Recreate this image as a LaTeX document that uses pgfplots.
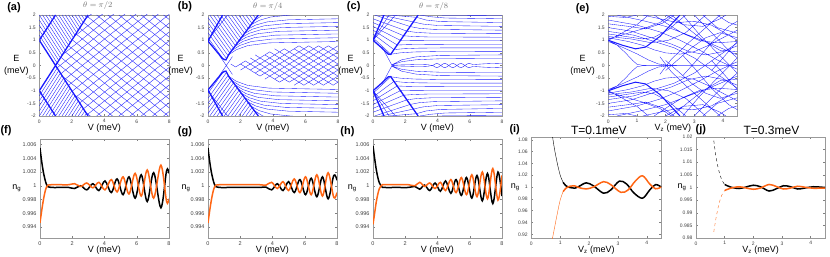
\documentclass[border=0pt]{standalone}
\usepackage{pgfplots}
\pgfplotsset{compat=1.18}
\usepackage{fontspec}
\setmainfont{Liberation Sans}
\definecolor{myor}{RGB}{255,102,20}
\definecolor{myblue}{RGB}{25,25,255}
\pgfplotsset{
 base/.style={scale only axis, clip=true, unbounded coords=jump,
   axis line style={black!40,line width=0.5pt},
   tick style={black!50,line width=0.4pt}, major tick length=2pt, tick align=inside,
   ticklabel style={font=\fontsize{5}{5}\selectfont, text=black!75},
   label style={font=\fontsize{9}{11.5}\selectfont},
   xlabel style={at={(axis description cs:0.5,0)},anchor=center,yshift=-12pt},
   ylabel style={anchor=center,rotate=-90,align=center},
 },
 bl/.style={myblue,line width=0.35pt},
 bt/.style={myblue,line width=1.3pt},
 topax/.style={base,width=130pt,height=101pt,xmin=0,xmax=8,ymin=-2,ymax=2,
   xtick={0,2,4,6,8},xticklabels={0,2,4,6,8},
   ytick={-2,-1.5,-1,-0.5,0,0.5,1,1.5,2},yticklabels={-2,-1.5,-1,-0.5,0,0.5,1,1.5,2},
   xlabel={V (meV)}, ylabel={E\\(meV)},
   title style={anchor=center,yshift=3pt,font=\fontsize{8}{8}\selectfont,text=black!55}},
 ngax/.style={base,width=129pt,height=99pt,xmin=0,xmax=8,ymin=0.9924,ymax=1.0068,
   ticklabel style={font=\fontsize{5.5}{5.5}\selectfont},
   xtick={0,2,4,6,8},xticklabels={0,2,4,6,8},
   ytick={0.994,0.996,0.998,1,1.002,1.004,1.006},yticklabels={0.994,0.996,0.998,1,1.002,1.004,1.006},
   xlabel={V (meV)}, ylabel={n\textsubscript{g}}, xlabel style={yshift=-0.6pt}},
 tax/.style={base,width=130pt,height=101pt,xmin=0,xmax=4.5,
   xtick={0,1,2,3,4},xticklabels={0,1,2,3,4},
   xlabel={V\textsubscript{z} (meV)}, ylabel={n\textsubscript{g}}, xlabel style={yshift=-0.3pt},
   title style={anchor=center,yshift=1pt,font=\fontsize{12}{12}\selectfont}},
 blk/.style={black,line width=1.5pt,smooth,tension=0.55},
 org/.style={myor,line width=1.5pt,smooth,tension=0.55},
 blkt/.style={black,line width=0.4pt,smooth},
 orgt/.style={myor,line width=0.4pt,smooth},
}
\begin{document}
\begin{tikzpicture}
\useasboundingbox (0,0) rectangle (830pt,-257pt);
% ---------------- (a)
\begin{axis}[topax, at={(39.3pt,-15pt)}, anchor=north west, title={$\theta=\pi/2$},
  title style={at={(axis description cs:0.45,1)}},
  ylabel style={at={(axis description cs:-0.177,0.5)}}]
\addplot[bl] coordinates {(0,1.2)(1.1,0.1) (0,nan) (0,1.4)(1.2,0.2) (0,nan) (0,1.6)(1.3,0.3) (0,nan) (0,1.8)(1.4,0.4) (0,nan) (0,2)(1.5,0.5) (0,nan) (0.2,2)(1.6,0.6) (0,nan) (0.4,2)(1.7,0.7) (0,nan) (0.6,2)(1.8,0.8) (0,nan) (0.8,2)(1.9,0.9) (0,nan) (1,2)(2,1) (0,nan) (1.2,2)(2.1,1.1) (0,nan) (1.4,2)(2.2,1.2) (0,nan) (1.6,2)(2.3,1.3) (0,nan) (1.8,2)(2.4,1.4) (0,nan) (2,2)(2.5,1.5) (0,nan) (2.2,2)(2.6,1.6) (0,nan) (2.4,2)(2.7,1.7) (0,nan) (2.6,2)(2.8,1.8) (0,nan) (2.8,2)(2.9,1.9)};
\addplot[bl] coordinates {(0,-1.2)(1.1,-0.1) (0,nan) (0,-1.4)(1.2,-0.2) (0,nan) (0,-1.6)(1.3,-0.3) (0,nan) (0,-1.8)(1.4,-0.4) (0,nan) (0,-2)(1.5,-0.5) (0,nan) (0.2,-2)(1.6,-0.6) (0,nan) (0.4,-2)(1.7,-0.7) (0,nan) (0.6,-2)(1.8,-0.8) (0,nan) (0.8,-2)(1.9,-0.9) (0,nan) (1,-2)(2,-1) (0,nan) (1.2,-2)(2.1,-1.1) (0,nan) (1.4,-2)(2.2,-1.2) (0,nan) (1.6,-2)(2.3,-1.3) (0,nan) (1.8,-2)(2.4,-1.4) (0,nan) (2,-2)(2.5,-1.5) (0,nan) (2.2,-2)(2.6,-1.6) (0,nan) (2.4,-2)(2.7,-1.7) (0,nan) (2.6,-2)(2.8,-1.8) (0,nan) (2.8,-2)(2.9,-1.9)};
\addplot[bl] coordinates {(2.857,-1.857)(8,-4.48) (0,nan) (2.143,-1.143)(8,-4.13) (0,nan) (1.429,-0.429)(8,-3.78) (0,nan) (1.093,0.093)(8,-3.43) (0,nan) (1.325,0.325)(8,-3.08) (0,nan) (1.556,0.556)(8,-2.73) (0,nan) (1.788,0.788)(8,-2.38) (0,nan) (2.020,1.020)(8,-2.03) (0,nan) (2.252,1.252)(8,-1.68) (0,nan) (2.483,1.483)(8,-1.33) (0,nan) (2.715,1.715)(8,-0.98) (0,nan) (2.947,1.947)(8,-0.63) (0,nan) (3.529,2)(8,-0.28) (0,nan) (4.216,2)(8,0.07) (0,nan) (4.902,2)(8,0.42) (0,nan) (5.588,2)(8,0.77) (0,nan) (6.275,2)(8,1.12) (0,nan) (6.961,2)(8,1.47) (0,nan) (7.647,2)(8,1.82)};
\addplot[bl] coordinates {(2.857,1.857)(8,4.48) (0,nan) (2.143,1.143)(8,4.13) (0,nan) (1.429,0.429)(8,3.78) (0,nan) (1.093,-0.093)(8,3.43) (0,nan) (1.325,-0.325)(8,3.08) (0,nan) (1.556,-0.556)(8,2.73) (0,nan) (1.788,-0.788)(8,2.38) (0,nan) (2.020,-1.020)(8,2.03) (0,nan) (2.252,-1.252)(8,1.68) (0,nan) (2.483,-1.483)(8,1.33) (0,nan) (2.715,-1.715)(8,0.98) (0,nan) (2.947,-1.947)(8,0.63) (0,nan) (3.529,-2)(8,0.28) (0,nan) (4.216,-2)(8,-0.07) (0,nan) (4.902,-2)(8,-0.42) (0,nan) (5.588,-2)(8,-0.77) (0,nan) (6.275,-2)(8,-1.12) (0,nan) (6.961,-2)(8,-1.47) (0,nan) (7.647,-2)(8,-1.82)};
\addplot[bt] coordinates {(0,1)(3,-2) (0,nan) (0,-1)(3,2) (0,nan) (0,1)(1,2) (0,nan) (0,-1)(1,-2)};
\end{axis}
% ---------------- (b)
\begin{axis}[topax, at={(208pt,-15pt)}, anchor=north west, title={$\theta=\pi/4$},
  title style={at={(axis description cs:0.46,1)}},
  ylabel style={at={(axis description cs:-0.21,0.5)}}]
\addplot[bl] coordinates {(0,1.1)(1.0,0.2) (0,nan) (0,1.3)(1.114,0.298) (0,nan) (0,1.5)(1.228,0.395) (0,nan) (0,1.7)(1.341,0.493) (0,nan) (0,1.9)(1.455,0.59) (0,nan) (0.111,2)(1.569,0.688) (0,nan) (0.333,2)(1.683,0.785) (0,nan) (0.556,2)(1.797,0.883) (0,nan) (0.778,2)(1.911,0.98) (0,nan) (1.0,2)(2.024,1.078) (0,nan) (1.222,2)(2.138,1.176) (0,nan) (1.444,2)(2.252,1.273) (0,nan) (1.667,2)(2.366,1.371) (0,nan) (1.889,2)(2.48,1.468) (0,nan) (2.111,2)(2.594,1.566) (0,nan) (2.333,2)(2.707,1.663) (0,nan) (2.556,2)(2.821,1.761) (0,nan) (2.778,2)(2.935,1.858)};
\addplot[bl] coordinates {(0,-1.1)(1.0,-0.2) (0,nan) (0,-1.3)(1.114,-0.298) (0,nan) (0,-1.5)(1.228,-0.395) (0,nan) (0,-1.7)(1.341,-0.493) (0,nan) (0,-1.9)(1.455,-0.59) (0,nan) (0.111,-2)(1.569,-0.688) (0,nan) (0.333,-2)(1.683,-0.785) (0,nan) (0.556,-2)(1.797,-0.883) (0,nan) (0.778,-2)(1.911,-0.98) (0,nan) (1.0,-2)(2.024,-1.078) (0,nan) (1.222,-2)(2.138,-1.176) (0,nan) (1.444,-2)(2.252,-1.273) (0,nan) (1.667,-2)(2.366,-1.371) (0,nan) (1.889,-2)(2.48,-1.468) (0,nan) (2.111,-2)(2.594,-1.566) (0,nan) (2.333,-2)(2.707,-1.663) (0,nan) (2.556,-2)(2.821,-1.761) (0,nan) (2.778,-2)(2.935,-1.858)};
\addplot[bl] coordinates {(1.25,0.414)(1.75,0.628)(2.45,0.789)(3.75,0.896)(8,0.95) (0,nan) (1.45,0.586)(1.95,0.792)(2.65,0.946)(3.95,1.049)(8,1.1) (0,nan) (1.65,0.757)(2.15,0.954)(2.85,1.102)(4.15,1.201)(8,1.25) (0,nan) (1.85,0.928)(2.35,1.117)(3.05,1.258)(4.35,1.353)(8,1.4) (0,nan) (2.05,1.1)(2.55,1.28)(3.25,1.415)(4.55,1.505)(8,1.55) (0,nan) (2.25,1.271)(2.75,1.443)(3.45,1.571)(4.75,1.657)(8,1.7) (0,nan) (2.45,1.443)(2.95,1.606)(3.65,1.728)(4.95,1.809)(8,1.85) (0,nan) (2.65,1.614)(3.15,1.788)(3.85,1.919)(5.15,2.006)(8,2.05) (0,nan) (2.85,1.785)(3.35,1.991)(4.05,2.146)};
\addplot[bl] coordinates {(1.25,-0.414)(1.75,-0.628)(2.45,-0.789)(3.75,-0.896)(8,-0.95) (0,nan) (1.45,-0.586)(1.95,-0.792)(2.65,-0.946)(3.95,-1.049)(8,-1.1) (0,nan) (1.65,-0.757)(2.15,-0.954)(2.85,-1.102)(4.15,-1.201)(8,-1.25) (0,nan) (1.85,-0.928)(2.35,-1.117)(3.05,-1.258)(4.35,-1.353)(8,-1.4) (0,nan) (2.05,-1.1)(2.55,-1.28)(3.25,-1.415)(4.55,-1.505)(8,-1.55) (0,nan) (2.25,-1.271)(2.75,-1.443)(3.45,-1.571)(4.75,-1.657)(8,-1.7) (0,nan) (2.45,-1.443)(2.95,-1.606)(3.65,-1.728)(4.95,-1.809)(8,-1.85) (0,nan) (2.65,-1.614)(3.15,-1.788)(3.85,-1.919)(5.15,-2.006)(8,-2.05) (0,nan) (2.85,-1.785)(3.35,-1.991)(4.05,-2.146)};
\addplot[bl] coordinates {(1.4,0.06)(1.7,-0.06)(2.0,0.06)(2.3,-0.06)(2.6,0.06)(2.9,-0.06)(3.2,0.06)(3.5,-0.06)(3.8,0.06)(4.1,-0.06)(4.4,0.06)(4.7,-0.06)(5.0,0.06)(5.3,-0.06)(5.6,0.06)(5.9,-0.06)(6.2,0.06)(6.5,-0.06)(6.8,0.06)(7.1,-0.06)(7.4,0.06)(7.7,-0.06)(8.0,0.06)
 (0,nan) (2.0,0.06)(2.3,0.18)(2.6,0.06)(2.9,0.18)(3.2,0.06)(3.5,0.18)(3.8,0.06)(4.1,0.18)(4.4,0.06)(4.7,0.18)(5.0,0.06)(5.3,0.18)(5.6,0.06)(5.9,0.18)(6.2,0.06)(6.5,0.18)(6.8,0.06)(7.1,0.18)(7.4,0.06)(7.7,0.18)(8.0,0.06)
 (0,nan) (2.0,-0.18)(2.3,-0.06)(2.6,-0.18)(2.9,-0.06)(3.2,-0.18)(3.5,-0.06)(3.8,-0.18)(4.1,-0.06)(4.4,-0.18)(4.7,-0.06)(5.0,-0.18)(5.3,-0.06)(5.6,-0.18)(5.9,-0.06)(6.2,-0.18)(6.5,-0.06)(6.8,-0.18)(7.1,-0.06)(7.4,-0.18)(7.7,-0.06)(8.0,-0.18)
 (0,nan) (2.6,0.30)(2.9,0.18)(3.2,0.30)(3.5,0.18)(3.8,0.30)(4.1,0.18)(4.4,0.30)(4.7,0.18)(5.0,0.30)(5.3,0.18)(5.6,0.30)(5.9,0.18)(6.2,0.30)(6.5,0.18)(6.8,0.30)(7.1,0.18)(7.4,0.30)(7.7,0.18)(8.0,0.30)
 (0,nan) (2.6,-0.18)(2.9,-0.30)(3.2,-0.18)(3.5,-0.30)(3.8,-0.18)(4.1,-0.30)(4.4,-0.18)(4.7,-0.30)(5.0,-0.18)(5.3,-0.30)(5.6,-0.18)(5.9,-0.30)(6.2,-0.18)(6.5,-0.30)(6.8,-0.18)(7.1,-0.30)(7.4,-0.18)(7.7,-0.30)(8.0,-0.18)
 (0,nan) (2.9,0.42)(3.2,0.30)(3.5,0.42)(3.8,0.30)(4.1,0.42)(4.4,0.30)(4.7,0.42)(5.0,0.30)(5.3,0.42)(5.6,0.30)(5.9,0.42)(6.2,0.30)(6.5,0.42)(6.8,0.30)(7.1,0.42)(7.4,0.30)(7.7,0.42)(8.0,0.30)
 (0,nan) (2.9,-0.30)(3.2,-0.42)(3.5,-0.30)(3.8,-0.42)(4.1,-0.30)(4.4,-0.42)(4.7,-0.30)(5.0,-0.42)(5.3,-0.30)(5.6,-0.42)(5.9,-0.30)(6.2,-0.42)(6.5,-0.30)(6.8,-0.42)(7.1,-0.30)(7.4,-0.42)(7.7,-0.30)(8.0,-0.42)
 (0,nan) (3.5,0.42)(3.8,0.54)(4.1,0.42)(4.4,0.54)(4.7,0.42)(5.0,0.54)(5.3,0.42)(5.6,0.54)(5.9,0.42)(6.2,0.54)(6.5,0.42)(6.8,0.54)(7.1,0.42)(7.4,0.54)(7.7,0.42)(8.0,0.54)
 (0,nan) (3.5,-0.54)(3.8,-0.42)(4.1,-0.54)(4.4,-0.42)(4.7,-0.54)(5.0,-0.42)(5.3,-0.54)(5.6,-0.42)(5.9,-0.54)(6.2,-0.42)(6.5,-0.54)(6.8,-0.42)(7.1,-0.54)(7.4,-0.42)(7.7,-0.54)(8.0,-0.42)
 (0,nan) (4.1,0.66)(4.4,0.54)(4.7,0.66)(5.0,0.54)(5.3,0.66)(5.6,0.54)(5.9,0.66)(6.2,0.54)(6.5,0.66)(6.8,0.54)(7.1,0.66)(7.4,0.54)(7.7,0.66)(8.0,0.54)
 (0,nan) (4.1,-0.54)(4.4,-0.66)(4.7,-0.54)(5.0,-0.66)(5.3,-0.54)(5.6,-0.66)(5.9,-0.54)(6.2,-0.66)(6.5,-0.54)(6.8,-0.66)(7.1,-0.54)(7.4,-0.66)(7.7,-0.54)(8.0,-0.66)
 (0,nan) (5.3,0.66)(5.6,0.78)(5.9,0.66)(6.2,0.78)(6.5,0.66)(6.8,0.78)(7.1,0.66)(7.4,0.78)(7.7,0.66)(8.0,0.78)
 (0,nan) (5.3,-0.78)(5.6,-0.66)(5.9,-0.78)(6.2,-0.66)(6.5,-0.78)(6.8,-0.66)(7.1,-0.78)(7.4,-0.66)(7.7,-0.78)(8.0,-0.66)};
\addplot[bl] coordinates {(0,1)(1.2,2) (0,nan) (0,-1)(1.2,-2) (0,nan) (0.7,0.4)(1.5,-0.35) (0,nan) (0.7,-0.4)(1.5,0.35)};
\addplot[bt] coordinates {(0,0.97)(0.5,0.58)(0.9,0.27)(1.1,0.22)(1.3,0.457)(2.0,1.057)(3.1,2.0) (0,nan) (0,-0.97)(0.5,-0.58)(0.9,-0.27)(1.1,-0.22)(1.3,-0.457)(2.0,-1.057)(3.1,-2.0) (0,nan) (0,0.97)(0.9,2) (0,nan) (0,-0.97)(0.9,-2)};
\end{axis}
% ---------------- (c)
\begin{axis}[topax, at={(373pt,-15pt)}, anchor=north west, width=129pt, title={$\theta=\pi/8$},
  title style={at={(axis description cs:0.47,1)}},
  ylabel style={at={(axis description cs:-0.173,0.5)}}]
\addplot[bl] coordinates {(1.18,0.02)(1.78,0.15)(2.68,0.228)(4.18,0.267)(8,0.28) (0,nan) (1.18,0.03)(1.78,0.225)(2.68,0.342)(4.18,0.40)(8,0.42) (0,nan) (0,1.1)(1.1,0.446)(1.7,0.503)(2.6,0.537)(4.1,0.554)(8,0.56) (0,nan) (0,1.25)(1.3,0.629)(1.9,0.665)(2.8,0.686)(4.3,0.697)(8,0.7) (0,nan) (0,1.4)(1.5,0.811)(2.1,0.826)(3.0,0.834)(4.5,0.839)(8,0.84) (0,nan) (0,1.55)(1.7,0.994)(2.3,0.987)(3.2,0.983)(8,0.98) (0,nan) (0,1.7)(1.9,1.177)(2.5,1.149)(3.4,1.131)(8,1.12) (0,nan) (0,1.85)(2.1,1.36)(2.7,1.31)(3.6,1.28)(8,1.26) (0,nan) (0.1,2)(2.3,1.543)(2.9,1.47)(3.8,1.43)(8,1.40) (0,nan) (0.5,2)(2.5,1.725)(3.1,1.64)(4.0,1.585)(8,1.55) (0,nan) (1.0,2)(2.7,1.908)(3.3,1.80)(4.2,1.74)(8,1.70) (0,nan) (2.9,2)(3.6,1.93)(4.5,1.88)(8,1.85) (0,nan) (4.0,2)(5,1.99)(8,1.98)};
\addplot[bl] coordinates {(1.18,-0.02)(1.78,-0.15)(2.68,-0.228)(4.18,-0.267)(8,-0.28) (0,nan) (1.18,-0.03)(1.78,-0.225)(2.68,-0.342)(4.18,-0.40)(8,-0.42) (0,nan) (0,-1.1)(1.1,-0.446)(1.7,-0.503)(2.6,-0.537)(4.1,-0.554)(8,-0.56) (0,nan) (0,-1.25)(1.3,-0.629)(1.9,-0.665)(2.8,-0.686)(4.3,-0.697)(8,-0.7) (0,nan) (0,-1.4)(1.5,-0.811)(2.1,-0.826)(3.0,-0.834)(4.5,-0.839)(8,-0.84) (0,nan) (0,-1.55)(1.7,-0.994)(2.3,-0.987)(3.2,-0.983)(8,-0.98) (0,nan) (0,-1.7)(1.9,-1.177)(2.5,-1.149)(3.4,-1.131)(8,-1.12) (0,nan) (0,-1.85)(2.1,-1.36)(2.7,-1.31)(3.6,-1.28)(8,-1.26) (0,nan) (0.1,-2)(2.3,-1.543)(2.9,-1.47)(3.8,-1.43)(8,-1.40) (0,nan) (0.5,-2)(2.5,-1.725)(3.1,-1.64)(4.0,-1.585)(8,-1.55) (0,nan) (1.0,-2)(2.7,-1.908)(3.3,-1.80)(4.2,-1.74)(8,-1.70) (0,nan) (2.9,-2)(3.6,-1.93)(4.5,-1.88)(8,-1.85) (0,nan) (4.0,-2)(5,-1.99)(8,-1.98)};
\addplot[bl,smooth] coordinates {(1.18,0)(1.6,0.02)(2.2,0.03)(2.8,0.04)(3.4,0.03)(3.7,0.0)(3.95,0.09)(4.2,0.0)(4.45,-0.09)(4.7,0.0)(4.95,0.09)(5.2,0.0)(5.45,-0.09)(5.7,0.0)(5.95,0.09)(6.2,0.04)(7.0,0.07)(8.0,0.09)};
\addplot[bl,smooth] coordinates {(1.18,0)(1.6,-0.02)(2.2,-0.03)(2.8,-0.04)(3.4,-0.03)(3.7,0.0)(3.95,-0.09)(4.2,0.0)(4.45,0.09)(4.7,0.0)(4.95,-0.09)(5.2,0.0)(5.45,0.09)(5.7,0.0)(5.95,-0.09)(6.2,-0.04)(7.0,-0.07)(8.0,-0.09)};
\addplot[bl] coordinates {(0,1)(1.0,2) (0,nan) (0,1)(1.4,2) (0,nan) (0,-1)(1.0,-2) (0,nan) (0,-1)(1.4,-2) (0,nan) (0.55,0.75)(1.18,0) (0,nan) (0.55,-0.75)(1.18,0)};
\addplot[bt] coordinates {(0,1)(0.5,0.72)(0.95,0.45)(1.1,0.44)(1.3,0.63)(2.8,2.0) (0,nan) (0,-1)(0.5,-0.72)(0.95,-0.45)(1.1,-0.44)(1.3,-0.63)(2.8,-2.0) (0,nan) (0,1)(0.68,2) (0,nan) (0,-1)(0.68,-2)};
\end{axis}
% ---------------- (e)
\begin{axis}[topax, at={(608.3pt,-15pt)}, anchor=north west, width=129pt, xmax=4.5,
  xtick={0,1,2,3,4}, xticklabels={0,1,2,3,4}, xlabel={V\textsubscript{z} (meV)},
  ylabel style={at={(axis description cs:-0.20,0.5)}}]
\addplot[bl] coordinates {(0,1.0)(0.3,0.82)(0.6,0.5)(0.85,0.2)(1.0,0.05)(1.2,0.005)(1.5,0)(4.5,0) (0,nan) (0,0.95)(0.5,0.72)(1.0,0.46)(1.4,0.22)(1.75,0.06)(2.1,0.01)(2.5,0) (0,nan) (0,1.0)(0.5,1.3)(1.0,1.62)(1.4,2.0) (0,nan) (0,1.05)(0.6,1.25)(1.2,1.45)(1.8,1.7)(2.2,2.0) (0,nan) (0,1.5)(0.8,1.36)(1.5,1.1)(2.2,0.85)(2.8,0.56)(3.4,0.42)(4.0,0.55)(4.5,0.78) (0,nan) (0,1.8)(1.0,1.6)(1.8,1.33)(2.5,1.0)(3.2,0.6)(3.8,0.22)(4.5,-0.15) (0,nan) (0.3,2)(1.2,1.78)(2.0,1.55)(2.8,1.2)(3.5,0.9)(4.5,0.42) (0,nan) (2.6,2)(3.2,1.2)(3.8,0.5)(4.5,-0.3) (0,nan) (3.0,2)(3.6,1.3)(4.2,0.6)(4.5,0.3) (0,nan) (2.6,-0.4)(3.0,0.1)(3.6,0.9)(4.2,1.55)(4.5,1.75) (0,nan) (1.8,-0.35)(2.2,0.25)(2.8,0.9)(3.4,1.5)(3.9,2.0) (0,nan) (0,1.25)(0.6,1.15)(1.2,1.05)(1.6,1.12)(2.1,1.42)(2.6,1.9)(2.7,2) (0,nan) (0,1.65)(0.7,1.55)(1.3,1.45)(1.9,1.68)(2.3,2.0) (0,nan) (1.6,2)(2.1,1.62)(2.6,1.27)(3.2,0.98)(3.8,0.9)(4.5,0.95) (0,nan) (3.3,2)(3.8,1.5)(4.5,1.28) (0,nan) (2.0,2)(2.6,1.62)(3.3,1.55)(3.9,1.85)(4.1,2) (0,nan) (3.6,-0.2)(4.0,0.3)(4.5,0.95) (0,nan) (0,1.95)(0.6,1.9)(1.0,2.0)
 (0,nan) (0,1.1)(0.7,0.95)(1.2,0.8)(1.6,0.62)(2.0,0.5)(2.5,0.45)(3.0,0.55)(3.5,0.8)(4.0,1.1)(4.5,1.4) (0,nan) (0,1.35)(0.9,1.2)(1.6,0.95)(2.3,0.7)(3.0,0.3)(3.5,-0.1)(4.0,-0.5)(4.5,-0.9) (0,nan) (1.2,2)(1.8,1.85)(2.4,1.7)(3.0,1.75)(3.6,1.6)(4.2,1.2)(4.5,1.0) (0,nan) (2.2,2)(2.8,1.45)(3.3,1.0)(3.9,0.6)(4.5,0.55) (0,nan) (0,1.15)(0.8,1.05)(1.5,0.9)(2.1,1.0)(2.7,1.3)(3.3,1.9)(3.4,2) (0,nan) (3.8,2)(4.2,1.7)(4.5,1.6) (0,nan) (2.0,-0.2)(2.4,0.2)(2.9,0.7)(3.4,1.1)(3.9,1.3)(4.5,1.1)};
\addplot[bl] coordinates {(0,-1.0)(0.3,-0.82)(0.6,-0.5)(0.85,-0.2)(1.0,-0.05)(1.2,-0.005)(1.5,0)(4.5,0) (0,nan) (0,-0.95)(0.5,-0.72)(1.0,-0.46)(1.4,-0.22)(1.75,-0.06)(2.1,-0.01)(2.5,0) (0,nan) (0,-1.0)(0.5,-1.3)(1.0,-1.62)(1.4,-2.0) (0,nan) (0,-1.05)(0.6,-1.25)(1.2,-1.45)(1.8,-1.7)(2.2,-2.0) (0,nan) (0,-1.5)(0.8,-1.36)(1.5,-1.1)(2.2,-0.85)(2.8,-0.56)(3.4,-0.42)(4.0,-0.55)(4.5,-0.78) (0,nan) (0,-1.8)(1.0,-1.6)(1.8,-1.33)(2.5,-1.0)(3.2,-0.6)(3.8,-0.22)(4.5,0.15) (0,nan) (0.3,-2)(1.2,-1.78)(2.0,-1.55)(2.8,-1.2)(3.5,-0.9)(4.5,-0.42) (0,nan) (2.6,-2)(3.2,-1.2)(3.8,-0.5)(4.5,0.3) (0,nan) (3.0,-2)(3.6,-1.3)(4.2,-0.6)(4.5,-0.3) (0,nan) (2.6,0.4)(3.0,-0.1)(3.6,-0.9)(4.2,-1.55)(4.5,-1.75) (0,nan) (1.8,0.35)(2.2,-0.25)(2.8,-0.9)(3.4,-1.5)(3.9,-2.0) (0,nan) (0,-1.25)(0.6,-1.15)(1.2,-1.05)(1.6,-1.12)(2.1,-1.42)(2.6,-1.9)(2.7,-2) (0,nan) (0,-1.65)(0.7,-1.55)(1.3,-1.45)(1.9,-1.68)(2.3,-2.0) (0,nan) (1.6,-2)(2.1,-1.62)(2.6,-1.27)(3.2,-0.98)(3.8,-0.9)(4.5,-0.95) (0,nan) (3.3,-2)(3.8,-1.5)(4.5,-1.28) (0,nan) (2.0,-2)(2.6,-1.62)(3.3,-1.55)(3.9,-1.85)(4.1,-2) (0,nan) (3.6,0.2)(4.0,-0.3)(4.5,-0.95) (0,nan) (0,-1.95)(0.6,-1.9)(1.0,-2.0)
 (0,nan) (0,-1.1)(0.7,-0.95)(1.2,-0.8)(1.6,-0.62)(2.0,-0.5)(2.5,-0.45)(3.0,-0.55)(3.5,-0.8)(4.0,-1.1)(4.5,-1.4) (0,nan) (0,-1.35)(0.9,-1.2)(1.6,-0.95)(2.3,-0.7)(3.0,-0.3)(3.5,0.1)(4.0,0.5)(4.5,0.9) (0,nan) (1.2,-2)(1.8,-1.85)(2.4,-1.7)(3.0,-1.75)(3.6,-1.6)(4.2,-1.2)(4.5,-1.0) (0,nan) (2.2,-2)(2.8,-1.45)(3.3,-1.0)(3.9,-0.6)(4.5,-0.55) (0,nan) (0,-1.15)(0.8,-1.05)(1.5,-0.9)(2.1,-1.0)(2.7,-1.3)(3.3,-1.9)(3.4,-2) (0,nan) (3.8,-2)(4.2,-1.7)(4.5,-1.6) (0,nan) (2.0,0.2)(2.4,-0.2)(2.9,-0.7)(3.4,-1.1)(3.9,-1.3)(4.5,-1.1)};
\addplot[myblue,line width=1.0pt] coordinates {(0,1.0)(0.5,0.8)(0.95,0.66)(1.3,0.73)(1.8,1.15)(2.5,2.0) (0,nan) (0,-1.0)(0.5,-0.8)(0.95,-0.66)(1.3,-0.73)(1.8,-1.15)(2.5,-2.0)};
\end{axis}
% ---------------- (f)
\begin{axis}[ngax, at={(40pt,-139pt)}, anchor=north west,
  ylabel style={at={(axis description cs:-0.18,0.5)}}]
\addplot[blk] coordinates {(0,1.0055)(0.1,1.0036)(0.2,1.0021)(0.3,1.001)(0.4,1.0002)(0.5,0.99985)(0.7,0.99975)(1.2,0.99975)(1.78,0.99975)(2.15,0.9996)(2.53,1.0000)(2.9,0.9994)(3.28,1.0003)(3.65,0.9993)(4.03,1.0007)(4.42,0.9990)(4.78,1.0010)(5.15,0.9987)(5.52,1.0013)(5.9,0.9982)(6.28,1.0016)(6.65,0.9977)(7.05,1.0019)(7.5,0.9968)(7.85,1.0022)(8,1.0018)};
\addplot[org] coordinates {(0,0.9946)(0.1,0.9963)(0.2,0.9978)(0.3,0.999)(0.4,0.9998)(0.5,1.0001)(0.7,1.00015)(1.2,1.00015)(1.78,1.00015)(2.15,1.0003)(2.53,0.9999)(2.9,1.0004)(3.28,0.9997)(3.65,1.0005)(4.03,0.9994)(4.42,1.0009)(4.78,0.9991)(5.15,1.0013)(5.52,0.9988)(5.9,1.0018)(6.28,0.9985)(6.65,1.0023)(7.05,0.9982)(7.5,1.0030)(7.85,0.9977)(8,0.9981)};
\end{axis}
% ---------------- (g)
\begin{axis}[ngax, at={(208pt,-139pt)}, anchor=north west,
  ylabel style={at={(axis description cs:-0.17,0.5)}}]
\addplot[blk] coordinates {(0,1.0055)(0.1,1.0036)(0.2,1.0021)(0.3,1.001)(0.4,1.0002)(0.5,0.99985)(0.7,0.99975)(1.5,0.99975)(2.5,0.99975)(3.2,0.99975)(3.6,0.9998)(3.95,0.9994)(4.3,1.0003)(4.65,0.9993)(5.0,1.0006)(5.35,0.999)(5.7,1.0009)(6.05,0.9987)(6.4,1.0011)(6.75,0.9984)(7.1,1.0013)(7.45,0.9981)(7.8,1.0015)(8,1.0008)};
\addplot[org] coordinates {(0,0.9946)(0.1,0.9963)(0.2,0.9978)(0.3,0.999)(0.4,0.9998)(0.5,1.0001)(0.7,1.00015)(1.5,1.00015)(2.5,1.00015)(3.2,1.00015)(3.6,1.0001)(3.95,1.0005)(4.3,0.9996)(4.65,1.0006)(5.0,0.9993)(5.35,1.001)(5.7,0.999)(6.05,1.0013)(6.4,0.9987)(6.75,1.0016)(7.1,0.9985)(7.45,1.0019)(7.8,0.9983)(8,0.999)};
\end{axis}
% ---------------- (h)
\begin{axis}[ngax, at={(373pt,-139pt)}, anchor=north west,
  ylabel style={at={(axis description cs:-0.16,0.5)}}]
\addplot[blk] coordinates {(0,1.0058)(0.1,1.004)(0.2,1.0024)(0.3,1.0012)(0.4,1.0004)(0.55,0.99985)(0.7,0.99975)(1.5,0.99975)(2.2,0.99975)(2.6,0.9999)(2.9,0.9995)(3.2,1.0001)(3.52,0.9993)(3.85,1.0004)(4.18,0.9992)(4.5,1.0007)(4.83,0.9989)(5.15,1.0009)(5.48,0.9986)(5.8,1.0012)(6.13,0.9982)(6.45,1.0015)(6.78,0.9978)(7.1,1.0018)(7.43,0.9974)(7.75,1.002)(8,0.9985)};
\addplot[org] coordinates {(0,0.9944)(0.1,0.996)(0.2,0.9976)(0.3,0.9988)(0.4,0.9996)(0.55,1.0001)(0.7,1.00015)(1.5,1.00015)(2.2,1.00015)(2.6,1.0)(2.9,1.0005)(3.2,0.9999)(3.52,1.0004)(3.85,0.9996)(4.18,1.0005)(4.5,0.9993)(4.83,1.0009)(5.15,0.999)(5.48,1.0012)(5.8,0.9987)(6.13,1.0016)(6.45,0.9984)(6.78,1.002)(7.1,0.9981)(7.43,1.0025)(7.75,0.9979)(8,1.0015)};
\end{axis}
% ---------------- (i)
\begin{axis}[tax, at={(531.3pt,-137pt)}, anchor=north west, ymin=0.9137, ymax=1.0846,
  ytick={0.92,0.94,0.96,0.98,1,1.02,1.04,1.06,1.08}, yticklabels={0.92,0.94,0.96,0.98,1,1.02,1.04,1.06,1.08},
  title={T=0.1meV}, title style={at={(axis description cs:0.52,1)}},
  ylabel style={at={(axis description cs:-0.123,0.5)}}]
\addplot[blkt] coordinates {(0.72,1.09)(0.8,1.065)(0.9,1.04)(1.0,1.02)(1.1,1.008)};
\addplot[orgt] coordinates {(0.72,0.91)(0.8,0.93)(0.9,0.955)(1.0,0.978)(1.1,0.992)};
\addplot[blk] coordinates {(1.1,1.008)(1.2,1.002)(1.35,0.999)(1.5,0.998)(1.65,1.001)(1.9,1.007)(2.15,1.002)(2.5,0.9895)(2.75,0.995)(3.05,1.010)(3.3,1.005)(3.55,0.99)(3.85,0.981)(4.1,0.995)(4.3,1.004)(4.5,1.0)};
\addplot[org] coordinates {(1.1,0.992)(1.2,0.998)(1.35,1.0015)(1.5,1.002)(1.65,0.999)(1.9,0.9967)(2.15,1.0)(2.5,1.009)(2.75,1.004)(3.1,0.991)(3.35,0.995)(3.6,1.01)(3.85,1.019)(4.1,1.005)(4.3,0.997)(4.5,1.0)};
\end{axis}
% ---------------- (j)
\begin{axis}[tax, at={(696pt,-137pt)}, anchor=north west, width=129pt, ymin=0.98, ymax=1.02,
  ytick={0.98,0.985,0.99,0.995,1,1.005,1.01,1.015,1.02}, yticklabels={0.98,0.985,0.99,0.995,1,1.005,1.01,1.015,1.02},
  title={T=0.3meV}, title style={at={(axis description cs:0.585,1)}},
  ylabel style={at={(axis description cs:-0.108,0.5)}}]
\addplot[blkt,dashed] coordinates {(0.62,1.0186)(0.7,1.012)(0.8,1.0065)(0.9,1.003)(1.0,1.0012)};
\addplot[orgt,dashed] coordinates {(0.62,0.9824)(0.7,0.988)(0.8,0.9935)(0.9,0.997)(1.0,0.9988)};
\addplot[blk] coordinates {(1.0,1.0012)(1.2,1.0002)(1.5,0.9996)(1.75,1.0002)(2.0,1.0009)(2.25,1.0003)(2.55,0.9986)(2.8,0.9995)(3.05,1.0007)(3.3,1.0003)(3.55,0.9994)(3.8,0.9998)(4.1,1.0003)(4.5,1.0)};
\addplot[org] coordinates {(1.0,0.9988)(1.2,0.9997)(1.5,1.0003)(1.75,0.9998)(2.0,0.9993)(2.25,0.9998)(2.55,1.0012)(2.8,1.0004)(3.05,0.9994)(3.3,0.9998)(3.55,1.0005)(3.8,1.0001)(4.1,0.9997)(4.5,0.9998)};
\end{axis}
% panel letters
\begin{scope}[every node/.style={font=\fontsize{11}{11}\selectfont\bfseries}]
\node at (14pt,-7.3pt) {(a)};
\node at (185pt,-6.7pt) {(b)};
\node at (353.7pt,-7pt) {(c)};
\node at (582.5pt,-8.3pt) {(e)};
\node at (6pt,-131pt) {(f)};
\node at (185pt,-132pt) {(g)};
\node at (347.5pt,-131.7pt) {(h)};
\node at (514.7pt,-130pt) {(i)};
\node at (700.8pt,-130pt) {(j)};
\end{scope}
\end{tikzpicture}
\end{document}
